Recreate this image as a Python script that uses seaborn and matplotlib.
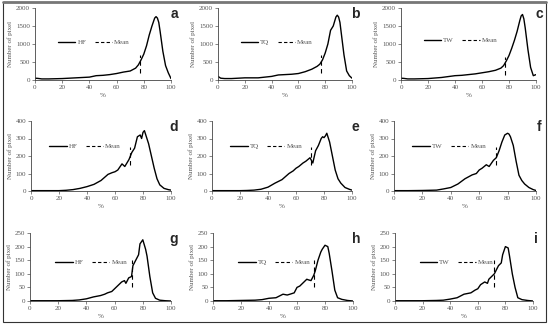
import numpy as np
import pandas as pd
import matplotlib
matplotlib.use("Agg")
import matplotlib.pyplot as plt
import seaborn as sns
from matplotlib.lines import Line2D

sns.set_style("ticks")
plt.rcParams['font.family'] = ['Liberation Serif', 'DejaVu Serif']

# x 位置 (%) 和每个子图的像素数
x_row1 = [0, 2, 5, 10, 20, 30, 40, 45, 50, 55, 60, 65, 70, 74, 76, 78, 80, 82, 84, 86, 88, 89, 90, 91, 92, 94, 96, 98, 100]
hf_a = [50, 45, 30, 30, 40, 60, 80, 120, 130, 150, 180, 220, 250, 330, 420, 560, 720, 950, 1250, 1500, 1720, 1760, 1720, 1600, 1350, 800, 400, 200, 40]
tq_b = [100, 50, 40, 40, 60, 60, 100, 140, 150, 160, 180, 230, 300, 380, 440, 560, 750, 1000, 1380, 1500, 1750, 1800, 1750, 1600, 1300, 700, 250, 120, 50]
tw_c = [50, 45, 30, 30, 40, 70, 120, 130, 150, 170, 200, 230, 270, 330, 400, 530, 680, 880, 1100, 1350, 1650, 1780, 1820, 1700, 1450, 850, 350, 120, 150]

x_row2 = [0, 10, 20, 25, 30, 35, 40, 45, 50, 55, 58, 60, 62, 65, 67, 70, 72, 74, 76, 78, 79, 80, 81, 82, 84, 86, 88, 90, 92, 95, 98, 100]
hf_d = [2, 2, 2, 4, 8, 15, 25, 38, 60, 95, 105, 110, 120, 155, 140, 180, 220, 245, 310, 320, 300, 335, 345, 320, 270, 200, 130, 70, 35, 15, 8, 5]
tq_e = [2, 2, 2, 3, 5, 10, 22, 45, 65, 100, 115, 130, 140, 160, 170, 190, 160, 230, 260, 300, 310, 305, 315, 330, 280, 200, 120, 70, 45, 20, 10, 5]
tw_f = [2, 2, 3, 4, 5, 12, 20, 40, 70, 92, 100, 120, 130, 150, 140, 175, 190, 230, 280, 320, 325, 330, 325, 310, 260, 170, 90, 60, 40, 20, 8, 3]

x_row3 = [0, 10, 20, 30, 35, 40, 45, 50, 53, 55, 58, 60, 62, 65, 67, 68, 70, 72, 73, 75, 77, 78, 80, 82, 83, 85, 87, 89, 92, 96, 100]
hf_g = [1, 1, 1, 2, 4, 8, 15, 20, 25, 30, 35, 45, 55, 70, 75, 65, 85, 90, 130, 150, 170, 210, 225, 190, 165, 90, 30, 10, 3, 1, 0]
tq_h = [1, 1, 2, 3, 5, 10, 12, 25, 22, 25, 30, 50, 55, 70, 80, 78, 75, 95, 110, 150, 180, 190, 205, 200, 175, 110, 40, 12, 6, 2, 0]
tw_i = [1, 1, 1, 2, 3, 7, 12, 25, 28, 30, 40, 45, 60, 70, 65, 80, 90, 100, 110, 130, 140, 170, 200, 195, 165, 100, 50, 12, 5, 2, 0]

names = ["HF", "TQ", "TW"]
letters = ["a", "b", "c", "d", "e", "f", "g", "h", "i"]
series = [hf_a, tq_b, tw_c, hf_d, tq_e, tw_f, hf_g, tq_h, tw_i]
xs = [x_row1, x_row2, x_row3]
ymax = [2000, 400, 250]
ystep = [500, 100, 50]
# 均值位置以及虚线的上下端
mean_x = [77, 77, 77, 71, 71, 72, 72, 72, 72]
mean_lo = [200, 200, 150, 150, 150, 150, 50, 50, 50]
mean_hi = [700, 700, 650, 250, 250, 250, 150, 150, 150]

W, H = 550, 328
fig = plt.figure(figsize=(5.5, 3.28), dpi=100)

# 各子图坐标轴像素位置: (左, 右, 上, 下)
boxes = [
    (35, 171, 8, 80), (218, 352, 8, 80), (401, 536, 8, 80),
    (31, 171, 121, 191), (212, 352, 121, 191), (394, 536, 121, 191),
    (30, 171, 233, 301), (213, 353, 233, 301), (395, 533, 233, 301),
]
leg_pos = [(0.17, 0.52), (0.17, 0.52), (0.17, 0.55),
           (0.13, 0.64), (0.13, 0.64), (0.13, 0.64),
           (0.18, 0.57), (0.18, 0.57), (0.18, 0.57)]

grey = "#555555"
for k in range(9):
    r = k // 3
    l, rt, t, b = boxes[k]
    ax = fig.add_axes([l / W, 1 - b / H, (rt - l) / W, (b - t) / H])
    df = pd.DataFrame({"x": xs[r], "y": series[k]})
    sns.lineplot(data=df, x="x", y="y", ax=ax, color="black", lw=1.0)
    ax.vlines(mean_x[k], mean_lo[k], mean_hi[k], colors="black",
              linestyles=(0, (4, 3)), lw=0.8)
    ax.set_xlim(0, 100)
    ax.set_ylim(0, ymax[r])
    ax.set_xticks(range(0, 101, 20))
    ax.set_yticks(range(0, ymax[r] + 1, ystep[r]))
    ax.tick_params(labelsize=5, colors=grey, length=2, width=0.5, pad=1.5)
    ax.tick_params(axis="both", labelcolor=grey)
    ax.set_xlabel("%", fontsize=5, color=grey, labelpad=2)
    ax.set_ylabel("Number of pixel", fontsize=5, color=grey, labelpad=2)
    for s in ["top", "right"]:
        ax.spines[s].set_visible(False)
    for s in ["left", "bottom"]:
        ax.spines[s].set_linewidth(0.6)
        ax.spines[s].set_color("#444444")
    handles = [Line2D([], [], color="black", lw=1.0),
               Line2D([], [], color="black", lw=0.8, ls=(0, (3, 2)))]
    ax.legend(handles, [names[k % 3], "Mean"], loc="center left",
              bbox_to_anchor=leg_pos[k], ncol=2, frameon=False, fontsize=5,
              handlelength=2.5, columnspacing=1.2, handletextpad=0.3,
              labelcolor=grey, borderpad=0, borderaxespad=0)
    fig.text((rt + 3) / W, 1 - (t + 6) / H, letters[k], fontsize=10,
             fontweight="bold", family="Liberation Sans", ha="center", va="center")

# 外框
frame = plt.Rectangle((3 / W, 6 / H), 543 / W, 320 / H, transform=fig.transFigure,
                      fill=False, edgecolor="#333333", lw=0.8)
fig.patches.append(frame)
fig.add_artist(Line2D([3 / W, 546 / W], [1 - 2 / H, 1 - 2 / H], color="#777777", lw=2))

fig.savefig("out.png", dpi=100)
